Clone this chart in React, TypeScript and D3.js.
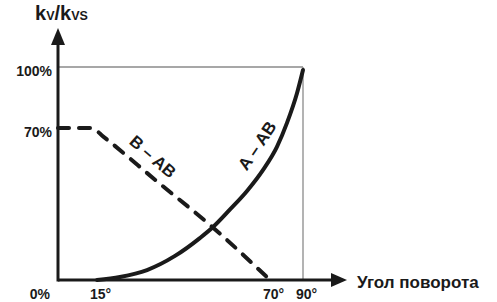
import React from 'react';
import * as d3 from 'd3';

// Data
const angleStops = [0, 15, 70, 90];
const percentStops = [0, 70, 100];
const xTicks = [15, 70, 90];
const xTickLabels = ['15°', '70°', '90°'];
const yTicks = [0, 70, 100];
const yTickLabels = ['0%', '70%', '100%'];
const seriesAAngle = [15, 22.3, 30.9, 39.8, 47.7, 51.9, 57.3, 62.7, 67.8, 74.2, 80.3, 86.4, 90];
const seriesAValue = [0, 1.4, 4.6, 11.1, 19.3, 24.4, 32.5, 41.0, 50.7, 61.3, 72.5, 87.2, 98.5];
const seriesBAngle = [0, 13, 17, 34, 52, 70];
const seriesBValue = [70, 70, 66, 45.5, 24, 0];

const W = 497;
const H = 302;
const FONT = '"Liberation Sans", Arial, Helvetica, sans-serif';

export default function App() {
  const x = d3.scaleLinear().domain(angleStops).range([58, 97, 270, 303]);
  const y = d3.scaleLinear().domain(percentStops).range([280, 128, 67]);

  const ptsA: [number, number][] = seriesAAngle.map((a, i) => [x(a), y(seriesAValue[i])]);
  const ptsB: [number, number][] = seriesBAngle.map((a, i) => [x(a), y(seriesBValue[i])]);
  const line = d3.line().curve(d3.curveMonotoneX);

  const x0 = x(0);
  const y0 = y(0);
  const xEnd = x(90) + 44;
  const yTop = y(100) - 39;

  return (
    <svg width={W} height={H} style={{ position: 'absolute', left: 0, top: 0, background: '#fff' }} fontFamily={FONT} fontWeight="bold">
      {/* grid lines */}
      <line x1={x0} x2={x(90)} y1={y(100)} y2={y(100)} stroke="#8a8a8a" strokeWidth={1.3} />
      <line x1={x(90)} x2={x(90)} y1={y(100)} y2={y0} stroke="#8a8a8a" strokeWidth={1.3} />

      {/* curves */}
      <path d={line(ptsB) || ''} fill="none" stroke="#1a1a1a" strokeWidth={4} strokeDasharray="11 10" strokeLinecap="round" />
      <path d={line(ptsA) || ''} fill="none" stroke="#1a1a1a" strokeWidth={4} strokeLinecap="round" />

      {/* axes */}
      <line x1={x0} x2={xEnd - 14} y1={y0} y2={y0} stroke="#1a1a1a" strokeWidth={3} />
      <path d={`M${xEnd},${y0} L${xEnd - 16},${y0 - 7} L${xEnd - 16},${y0 + 7} Z`} fill="#1a1a1a" />
      <line x1={x0} x2={x0} y1={y0 + 1.5} y2={yTop + 14} stroke="#1a1a1a" strokeWidth={3} />
      <path d={`M${x0},${yTop} L${x0 - 7},${yTop + 17} L${x0 + 7},${yTop + 17} Z`} fill="#1a1a1a" />

      {/* y tick labels */}
      {yTicks.map((t, i) =>
        t === 0 ? (
          <text key={t} x={50} y={y0 + 19} fontSize={14} textAnchor="end" fill="#1a1a1a">{yTickLabels[i]}</text>
        ) : (
          <text key={t} x={52} y={y(t) + 9} fontSize={14} textAnchor="end" fill="#1a1a1a">{yTickLabels[i]}</text>
        )
      )}

      {/* x tick labels */}
      {xTicks.map((t, i) => (
        <text key={t} x={x(t) - 7} y={y0 + 19} fontSize={14} fill="#1a1a1a">{xTickLabels[i]}</text>
      ))}

      {/* axis titles */}
      <text x={357} y={y0 + 8} fontSize={17} fill="#1a1a1a">Угол поворота</text>
      <text x={35} y={20} fill="#1a1a1a">
        <tspan fontSize={20}>k</tspan>
        <tspan fontSize={12.5}>V</tspan>
        <tspan fontSize={20}>/k</tspan>
        <tspan fontSize={12.5}>VS</tspan>
      </text>

      {/* curve labels */}
      <text x={0} y={0} fontSize={17} textAnchor="middle" fill="#1a1a1a" transform={`translate(149,161) rotate(41)`}>B – AB</text>
      <text x={0} y={0} fontSize={17} textAnchor="middle" fill="#1a1a1a" transform={`translate(262,149) rotate(-56)`}>A – AB</text>
    </svg>
  );
}
